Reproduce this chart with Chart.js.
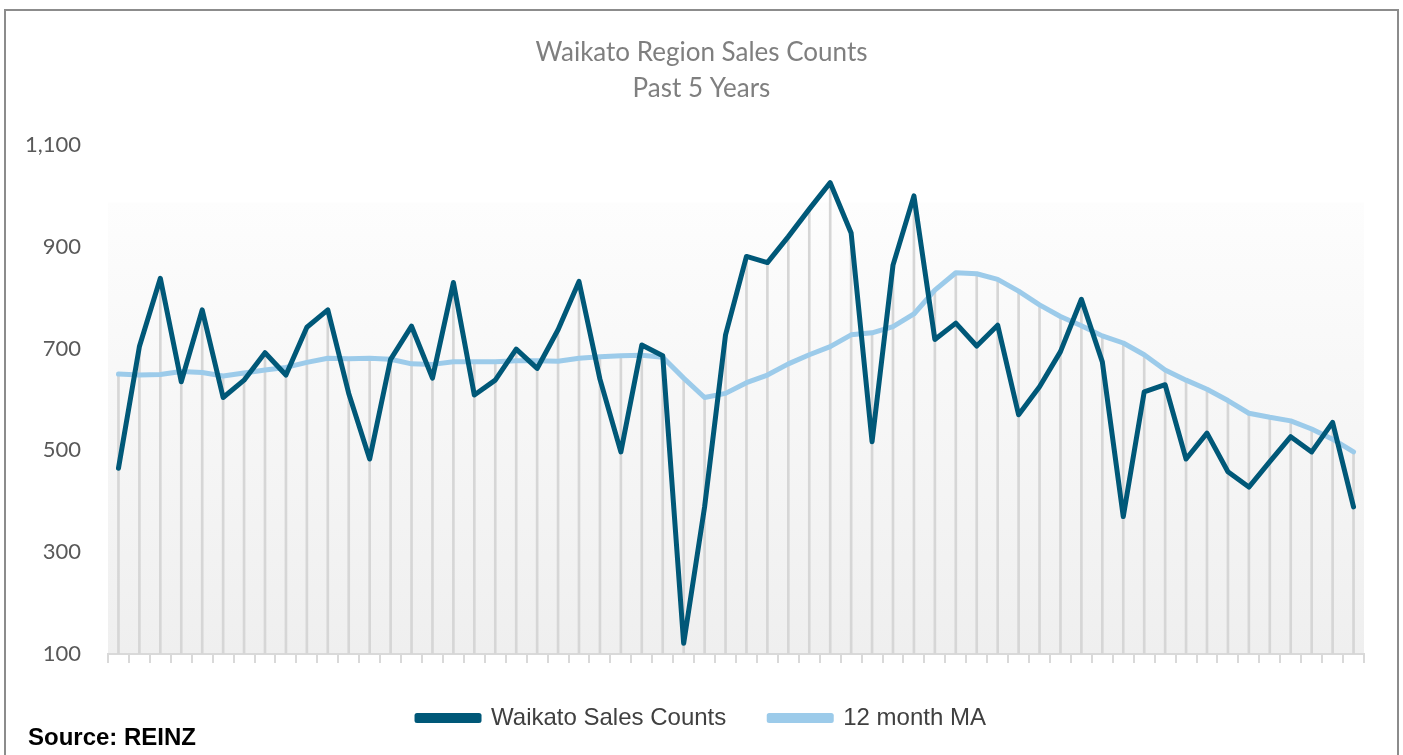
<!DOCTYPE html>
<html>
<head>
<meta charset="utf-8">
<title>Waikato Region Sales Counts</title>
<script src="https://cdn.jsdelivr.net/npm/chart.js@4.4.0/dist/chart.umd.min.js"></script>
<style>
    body { margin: 0; background: #fff; overflow: hidden; }
    #quadro { position: relative; width: 1403px; height: 755px; }
    #moldura { position: absolute; left: 4px; top: 9px; width: 1391px; height: 800px; border: 2px solid #8c8c8c; border-bottom: none; }
    #fonte { position: absolute; left: 28px; top: 723px; font: bold 24px "Liberation Sans", Arial, sans-serif; color: #000; }
</style>
</head>
<body>
<div id="quadro">
    <div id="moldura"></div>
    <canvas id="grafico"></canvas>
    <div id="fonte">Source: REINZ</div>
</div>
<script>
// 60 months, values
const meses = ['Jan', 'Feb', 'Mar', 'Apr', 'May', 'Jun', 'Jul', 'Aug', 'Sep', 'Oct', 'Nov', 'Dec'];
const anos = ['19', '20', '21', '22', '23'];

const vendas = [465, 704, 838, 635, 776, 604, 638, 692, 648, 742, 776, 612,
    483, 679, 744, 642, 830, 609, 638, 699, 661, 737, 832, 640,
    497, 707, 686, 121, 389, 727, 881, 869, 920, 974, 1026, 927,
    517, 864, 1000, 718, 750, 705, 746, 570, 625, 694, 797, 674,
    370, 615, 629, 483, 534, 458, 428, 478, 527, 497, 555, 389];

const mediaMovel = [650, 648, 649, 655, 653, 646, 652, 658, 663, 673, 681, 680,
    681, 679, 670, 669, 674, 674, 674, 676, 676, 675, 681, 684,
    686, 687, 683, 642, 604, 612, 633, 648, 670, 688, 704, 727,
    731, 743, 768, 815, 849, 847, 836, 813, 786, 763, 745, 725,
    711, 688, 658, 638, 620, 598, 573, 565, 558, 542, 522, 497];

const ticksY = [100, 300, 500, 700, 900, 1100];

const rotulos = [];
anos.forEach(a => meses.forEach(m => rotulos.push(m + '-' + a)));

// drop lines go from the higher of the two series down to the axis
const linhasQueda = vendas.map((v, i) => Math.max(v, mediaMovel[i]));

const fundoGradiente = {
    id: 'fundoGradiente',
    beforeDraw(chart) {
        const { ctx, chartArea } = chart;
        const topo = chartArea.top + (chartArea.bottom - chartArea.top) * 0.113;
        const grad = ctx.createLinearGradient(0, topo, 0, chartArea.bottom);
        grad.addColorStop(0, '#fdfdfd');
        grad.addColorStop(1, '#efefef');
        ctx.save();
        ctx.fillStyle = grad;
        ctx.fillRect(chartArea.left, topo, chartArea.right - chartArea.left, chartArea.bottom - topo);
        ctx.restore();
    }
};

const ctx = document.getElementById('grafico').getContext('2d');
new Chart(ctx, {
    type: 'line',
    data: {
        labels: rotulos,
        datasets: [{
            label: 'Waikato Sales Counts',
            data: vendas,
            borderColor: '#005878',
            backgroundColor: '#005878',
            borderWidth: 5,
            pointRadius: 0,
            tension: 0,
            borderJoinStyle: 'round',
            borderCapStyle: 'round',
            order: 1
        }, {
            label: '12 month MA',
            data: mediaMovel,
            borderColor: '#9ccbea',
            backgroundColor: '#9ccbea',
            borderWidth: 5,
            pointRadius: 0,
            tension: 0,
            borderJoinStyle: 'round',
            borderCapStyle: 'round',
            order: 2
        }, {
            type: 'bar',
            label: 'drop',
            data: linhasQueda,
            backgroundColor: '#d6d6d6',
            barThickness: 2,
            order: 3
        }]
    },
    options: {
        responsive: true,
        maintainAspectRatio: false,
        animation: false,
        layout: { padding: { top: 0, right: 0, bottom: 15, left: 0 } },
        plugins: {
            title: {
                display: true,
                text: ['Waikato Region Sales Counts', 'Past 5 Years'],
                color: '#7f7f7f',
                font: { family: 'Lato', size: 26, weight: 'normal', lineHeight: '36px' },
                padding: { top: 35, bottom: 38 }
            },
            legend: {
                position: 'bottom',
                labels: {
                    filter: item => item.text !== 'drop',
                    color: '#404040',
                    font: { family: '"Liberation Sans", Arial, sans-serif', size: 24 },
                    boxWidth: 62,
                    boxHeight: 5,
                    padding: 43
                }
            },
            tooltip: { enabled: false }
        },
        scales: {
            x: {
                offset: true,
                grid: { offset: true, drawOnChartArea: false, drawTicks: true, tickLength: 9, color: '#d9d9d9', lineWidth: 2 },
                border: { color: '#d9d9d9', width: 2 },
                ticks: { display: false }
            },
            y: {
                min: 100,
                max: 1100,
                afterBuildTicks: axis => { axis.ticks = ticksY.map(v => ({ value: v })); },
                afterFit: axis => { axis.width = 108; },
                grid: { display: false, drawTicks: false },
                border: { display: false },
                ticks: {
                    padding: 27,
                    color: '#595959',
                    font: { family: 'Lato', size: 22 },
                    callback: v => v.toLocaleString('en-US')
                }
            },
            // empty right axis keeps the right margin without shifting the legend
            margem: {
                position: 'right',
                afterFit: axis => { axis.width = 39; },
                grid: { display: false, drawTicks: false },
                border: { display: false },
                ticks: { display: false }
            }
        }
    },
    plugins: [fundoGradiente]
});
</script>
</body>
</html>
